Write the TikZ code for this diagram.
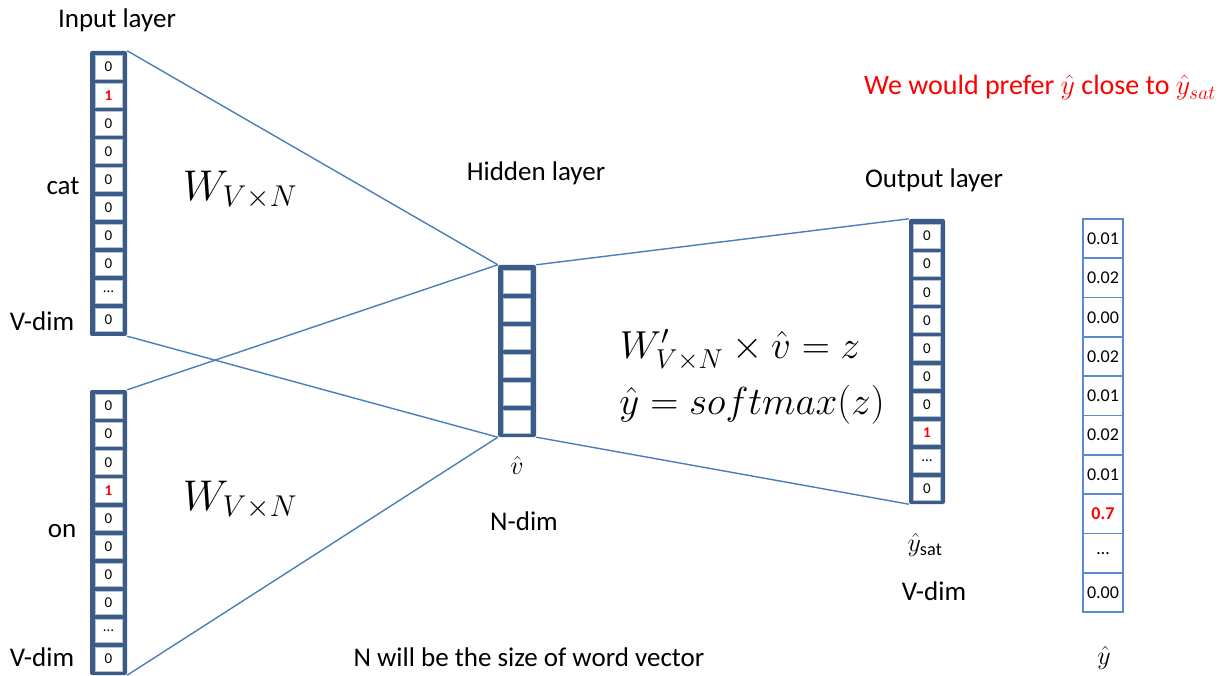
\documentclass[tikz,border=0pt]{standalone}
\usepackage{fix-cm}
\usepackage{fontspec}
\setmainfont{Carlito}
\usetikzlibrary{backgrounds}
\definecolor{frameblue}{HTML}{3B5C8A}
\definecolor{linkblue}{HTML}{4A7EBB}
\definecolor{cellline}{HTML}{5B8BCB}
\definecolor{cellgray}{HTML}{B4C2D4}
\definecolor{notered}{HTML}{FF0000}
\begin{document}
\begin{tikzpicture}[x=1pt,y=-1pt,
  vecframe/.style={fill=frameblue, draw=none, rounded corners=2pt, inner sep=0pt},
  cell/.style={fill=white, draw=cellgray, line width=0.4pt, minimum width=27pt, minimum height=23.5pt, inner sep=0pt, font=\fontsize{15}{15}\selectfont},
  hcell/.style={fill=white, draw=cellgray, line width=0.4pt, minimum width=27pt, minimum height=23pt, inner sep=0pt},
  pcell/.style={fill=white, draw=cellline, line width=1.6pt, minimum width=40pt, minimum height=39.3pt, inner sep=0pt, font=\fontsize{18}{18}\selectfont},
  lbl/.style={font=\fontsize{27}{32}\selectfont, inner sep=0pt},
  mathbig/.style={font=\fontsize{43}{48}\selectfont, inner sep=0pt},
  mathmid/.style={font=\fontsize{39}{44}\selectfont, inner sep=0pt},
  mathsm/.style={font=\fontsize{26}{30}\selectfont, inner sep=0pt},
  link/.style={draw=linkblue, line width=1.4pt}
]
\useasboundingbox (0,0) rectangle (1224,676);

% input vector (cat)
\node[vecframe, minimum width=37pt, minimum height=285pt] (inA) at (108.5,193.5) {};
\foreach \v [count=\i] in {0,{\textcolor{notered}{\textbf{1}}},0,0,0,0,0,0,{\dots},0}
  \node[cell] (a\i) at (108.5,{53+28.1*(\i-0.5)}) {\v};

% input vector (on)
\node[vecframe, minimum width=37pt, minimum height=285pt] (inB) at (108.5,532.5) {};
\foreach \v [count=\i] in {0,0,0,{\textcolor{notered}{\textbf{1}}},0,0,0,0,{\dots},0}
  \node[cell] (b\i) at (108.5,{392+28.1*(\i-0.5)}) {\v};

% hidden layer
\node[vecframe, minimum width=38pt, minimum height=172pt] (hid) at (517,351) {};
\foreach \i in {1,...,6}
  \node[hcell] (h\i) at (517,{281.5+28.04*(\i-1)}) {};

% output layer
\node[vecframe, minimum width=36pt, minimum height=285pt] (out) at (927,361.5) {};
\foreach \v [count=\i] in {0,0,0,0,0,0,0,{\textcolor{notered}{\textbf{1}}},{\dots},0}
  \node[cell] (o\i) at (927,{236+28.1*(\i-1)}) {\v};

% predicted vector
\foreach \v [count=\i] in {0.01,0.02,0.00,0.02,0.01,0.02,0.01,{\textcolor{notered}{\textbf{0.7}}},{\dots},0.00}
  \node[pcell] (p\i) at (1103,{238.65+39.3*(\i-1)}) {\v};

% connectors
\begin{scope}[on background layer]
\draw[link] (inA.north east) -- (hid.north west);
\draw[link] (inA.south east) -- (hid.south west);
\draw[link] (inB.north east) -- (hid.north west);
\draw[link] (inB.south east) -- (hid.south west);
\draw[link] (hid.north east) -- (out.north west);
\draw[link] (hid.south east) -- (out.south west);
\end{scope}

% labels
\node[lbl] (tIn) at (117,20) {Input layer};
\node[lbl] (tCat) at (63,186) {cat};
\node[lbl] (tV1) at (42,321) {V-dim};
\node[lbl] (tOn) at (62,531) {on};
\node[lbl] (tV2) at (42,657) {V-dim};
\node[lbl] (tHid) at (536,173) {Hidden layer};
\node[lbl] (tOut) at (934,180) {Output layer};
\node[lbl] (tN) at (524,521) {N-dim};
\node[lbl] (tV3) at (934,591) {V-dim};
\node[lbl] (tNote) at (529,657) {N will be the size of word vector};
\node[lbl, text=notered, anchor=west, font=\fontsize{28}{32}\selectfont] (tPref) at (864,88) {We would prefer $\hat{y}$ close to $\hat{y}_{sat}$};

\node[mathbig] (w1) at (240,190) {$W_{V\times N}$};
\node[mathbig] (w2) at (240,500) {$W_{V\times N}$};
\node[mathmid] (f1) at (740,350) {$W'_{V\times N}\times\hat{v}=z$};
\node[mathmid] (f2) at (752,405) {$\hat{y}=softmax(z)$};
\node[mathsm] (vh) at (517,465) {$\hat{v}$};
\node[mathsm] (ys) at (925,545) {$\hat{y}_{\mathrm{sat}}$};
\node[mathsm] (yh) at (1104,658) {$\hat{y}$};
\end{tikzpicture}
\end{document}
